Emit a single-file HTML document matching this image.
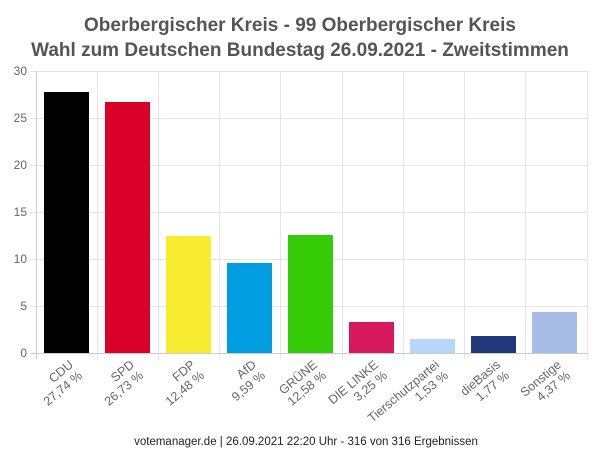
<!DOCTYPE html>
<html><head><meta charset="utf-8"><style>
body{margin:0;background:#fff;}
svg text{font-family:"Liberation Sans",sans-serif;}
</style></head><body>
<svg width="600" height="462" xmlns="http://www.w3.org/2000/svg">
<text x="300" y="31" text-anchor="middle" font-size="19" font-weight="bold" fill="#555">Oberbergischer Kreis - 99 Oberbergischer Kreis</text>
<text x="300" y="56" text-anchor="middle" font-size="19" font-weight="bold" fill="#555">Wahl zum Deutschen Bundestag 26.09.2021  - Zweitstimmen</text>
<g stroke="#e4e4e4" stroke-width="1">
<line x1="30" y1="71.5" x2="588" y2="71.5"/>
<line x1="30" y1="118.5" x2="588" y2="118.5"/>
<line x1="30" y1="165.5" x2="588" y2="165.5"/>
<line x1="30" y1="212.5" x2="588" y2="212.5"/>
<line x1="30" y1="259.5" x2="588" y2="259.5"/>
<line x1="30" y1="306.5" x2="588" y2="306.5"/>
<line x1="97.5" y1="71" x2="97.5" y2="359"/>
<line x1="158.5" y1="71" x2="158.5" y2="359"/>
<line x1="219.5" y1="71" x2="219.5" y2="359"/>
<line x1="280.5" y1="71" x2="280.5" y2="359"/>
<line x1="342.5" y1="71" x2="342.5" y2="359"/>
<line x1="403.5" y1="71" x2="403.5" y2="359"/>
<line x1="464.5" y1="71" x2="464.5" y2="359"/>
<line x1="525.5" y1="71" x2="525.5" y2="359"/>
<line x1="587.5" y1="71" x2="587.5" y2="359"/>
</g>
<line x1="36.5" y1="71" x2="36.5" y2="359" stroke="#ccc"/>
<line x1="30" y1="353.5" x2="588" y2="353.5" stroke="#ccc"/>
<g font-size="12" fill="#666" text-anchor="end">
<text x="27" y="75">30</text><text x="27" y="122">25</text><text x="27" y="169">20</text>
<text x="27" y="216">15</text><text x="27" y="263">10</text><text x="27" y="310">5</text><text x="27" y="357">0</text>
</g>
<rect x="44" y="92" width="45" height="261" fill="#000"/>
<rect x="105" y="102" width="45" height="251" fill="#d9002a"/>
<rect x="166" y="236" width="45" height="117" fill="#f8ec30"/>
<rect x="227" y="263" width="45" height="90" fill="#009ee0"/>
<rect x="288" y="235" width="45" height="118" fill="#36cb07"/>
<rect x="349" y="322" width="45" height="31" fill="#d5195c"/>
<rect x="410" y="339" width="45" height="14" fill="#b7d6fc"/>
<rect x="471" y="336" width="45" height="17" fill="#20387a"/>
<rect x="532" y="312" width="45" height="41" fill="#a8bde6"/>
<g font-size="12.5" fill="#666" text-anchor="end">
<text transform="translate(74,366) rotate(-40)"><tspan x="0" y="0">CDU</tspan><tspan x="0" y="14">27,74 %</tspan></text>
<text transform="translate(135,366) rotate(-40)"><tspan x="0" y="0">SPD</tspan><tspan x="0" y="14">26,73 %</tspan></text>
<text transform="translate(196,366) rotate(-40)"><tspan x="0" y="0">FDP</tspan><tspan x="0" y="14">12,48 %</tspan></text>
<text transform="translate(257,366) rotate(-40)"><tspan x="0" y="0">AfD</tspan><tspan x="0" y="14">9,59 %</tspan></text>
<text transform="translate(318,366) rotate(-40)"><tspan x="0" y="0">GRÜNE</tspan><tspan x="0" y="14">12,58 %</tspan></text>
<text transform="translate(379,366) rotate(-40)"><tspan x="0" y="0">DIE LINKE</tspan><tspan x="0" y="14">3,25 %</tspan></text>
<text transform="translate(440,366) rotate(-40)"><tspan x="0" y="0">Tierschutzpartei</tspan><tspan x="0" y="14">1,53 %</tspan></text>
<text transform="translate(501,366) rotate(-40)"><tspan x="0" y="0">dieBasis</tspan><tspan x="0" y="14">1,77 %</tspan></text>
<text transform="translate(562,366) rotate(-40)"><tspan x="0" y="0">Sonstige</tspan><tspan x="0" y="14">4,37 %</tspan></text>
</g>
<text x="306" y="445" text-anchor="middle" font-size="11.5" fill="#222">votemanager.de | 26.09.2021 22:20 Uhr - 316 von 316 Ergebnissen</text>
</svg>
</body></html>
